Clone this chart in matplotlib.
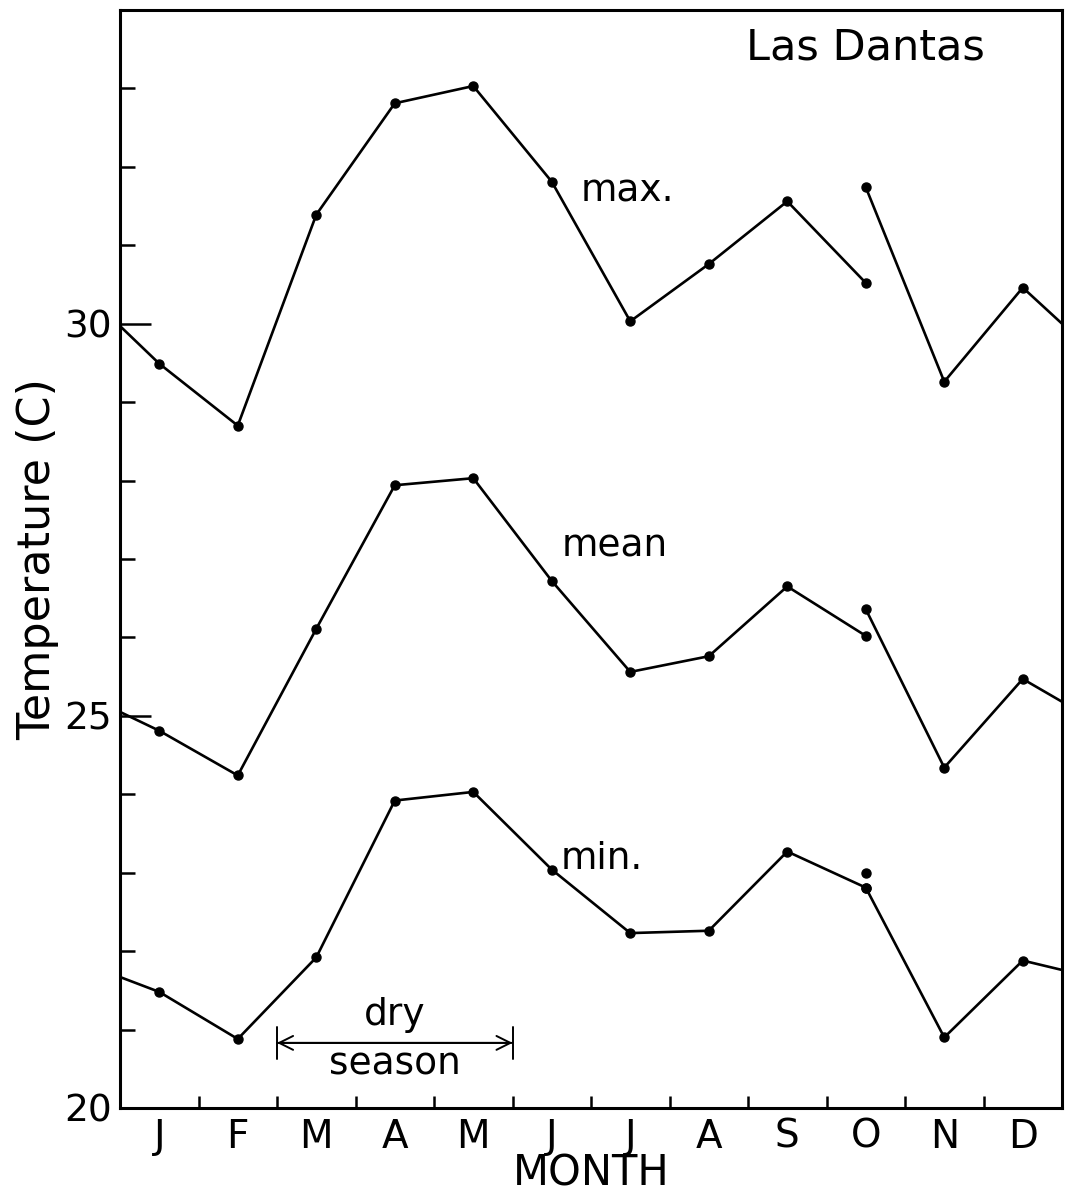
import matplotlib.pyplot as plt
import numpy as np

# monthly temperatures at Las Dantas (deg C), Jan..Oct first run,
# then Oct..Dec from the second run; edge values wrap the year
months = ["J", "F", "M", "A", "M", "J", "J", "A", "S", "O", "N", "D"]
x_mid = np.arange(12) + 0.5

max_a = [29.49, 28.70, 31.39, 32.81, 33.03, 31.81, 30.03, 30.76, 31.56, 30.52]
max_b = [31.74, 29.26, 30.46]
max_edge = (29.97, 30.0)

mean_a = [24.81, 24.24, 26.11, 27.94, 28.03, 26.72, 25.56, 25.76, 26.65, 26.02]
mean_b = [26.36, 24.34, 25.47]
mean_edge = (25.05, 25.18)

min_a = [21.48, 20.88, 21.92, 23.92, 24.03, 23.04, 22.23, 22.26, 23.27, 22.81]
min_b = [22.81, 20.90, 21.88]
min_edge = (21.67, 21.76)
min_oct_extra = 23.0

fig = plt.figure(figsize=(10.65, 11.99), dpi=100)
ax = fig.add_axes([0.1127, 0.0759, 0.8845, 0.9158])

line_kw = dict(color="black", lw=1.9, marker="o", ms=6.5, mfc="black", mec="black")
for a, b, edge in [(max_a, max_b, max_edge), (mean_a, mean_b, mean_edge),
                   (min_a, min_b, min_edge)]:
    xa = np.concatenate([[0.0], x_mid[:10]])
    ya = np.concatenate([[edge[0]], a])
    ax.plot(xa, ya, markevery=list(range(1, len(xa))), **line_kw)
    xb = np.concatenate([x_mid[9:], [12.0]])
    yb = np.concatenate([b, [edge[1]]])
    ax.plot(xb, yb, markevery=list(range(0, len(xb) - 1)), **line_kw)
ax.plot(x_mid[9], min_oct_extra, "o", color="black", ms=6.5)

ax.set_xlim(0, 12)
ax.set_ylim(20, 34)

# month boundaries as ticks, month initials centred between them
ax.set_xticks(np.arange(1, 12))
ax.set_xticklabels([])
ax.set_xticks(x_mid, minor=True)
ax.set_xticklabels(months, minor=True, fontsize=28)
ax.tick_params(axis="x", which="major", direction="in", length=9, width=1.8)
ax.tick_params(axis="x", which="minor", length=0, pad=7)

ax.set_yticks([20, 25, 30])
ax.set_yticks(np.arange(21, 34), minor=True)
ax.tick_params(axis="y", which="major", direction="in", length=22, width=1.8,
               labelsize=27, pad=6)
ax.tick_params(axis="y", which="minor", direction="in", length=11, width=1.8)

for s in ax.spines.values():
    s.set_linewidth(2.2)

ax.set_ylabel("Temperature (C)", fontsize=32, va="center")
ax.yaxis.set_label_coords(-0.088, 0.5)
ax.set_xlabel("MONTH", fontsize=30, va="center")
ax.xaxis.set_label_coords(0.5, -0.06)

ax.text(9.5, 33.52, "Las Dantas", fontsize=31, va="center", ha="center")
ax.text(5.87, 31.68, "max.", fontsize=27, va="center", ha="left")
ax.text(5.63, 27.16, "mean", fontsize=27, va="center", ha="left")
ax.text(5.61, 23.18, "min.", fontsize=27, va="center", ha="left")

# dry season span, March to May
ax.annotate("", xy=(5.0, 20.83), xytext=(2.0, 20.83),
            arrowprops=dict(arrowstyle="<->", lw=1.4, color="black",
                            shrinkA=0, shrinkB=0, mutation_scale=25))
ax.annotate("", xy=(5.0, 20.83), xytext=(2.0, 20.83),
            arrowprops=dict(arrowstyle="|-|, widthA=0.45, widthB=0.45", lw=1.4,
                            color="black", shrinkA=0, shrinkB=0, mutation_scale=25))
ax.text(3.5, 21.18, "dry", fontsize=27, ha="center", va="center")
ax.text(3.5, 20.55, "season", fontsize=27, ha="center", va="center")

fig.savefig("out.png", dpi=100)
